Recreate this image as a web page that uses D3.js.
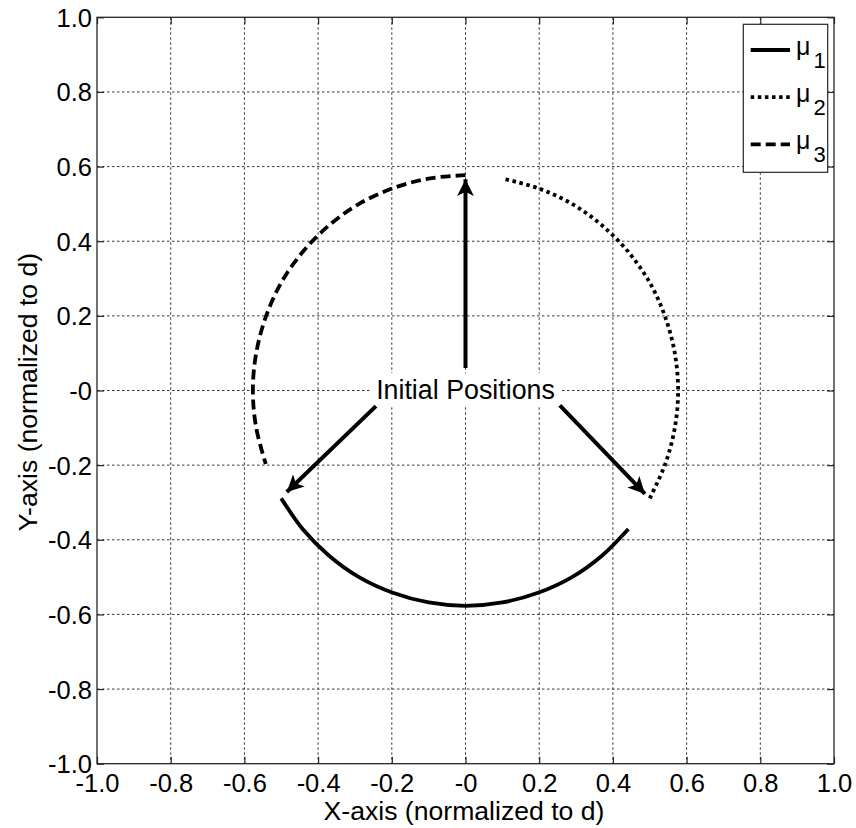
<!DOCTYPE html>
<html>
<head>
<meta charset="utf-8">
<script src="https://cdn.jsdelivr.net/npm/d3@7"></script>
<style>
  html, body { margin: 0; padding: 0; background: #fff; }
  svg { display: block; font-family: "Liberation Sans", Arial, sans-serif; }
</style>
</head>
<body>
<svg id="chart" width="856" height="828"></svg>
<script>
// Axis ticks and their printed labels
const tickValues = [-1, -0.8, -0.6, -0.4, -0.2, 0, 0.2, 0.4, 0.6, 0.8, 1];
const xTickLabels = ["-1.0", "-0.8", "-0.6", "-0.4", "-0.2", "-0", "0.2", "0.4", "0.6", "0.8", "1.0"];
const yTickLabels = ["-1.0", "-0.8", "-0.6", "-0.4", "-0.2", "-0", "0.2", "0.4", "0.6", "0.8", "1.0"];

// Trajectories of the three means, [x, y] normalized to d
const mu1 = [[-0.500, -0.289], [-0.442, -0.371], [-0.371, -0.442], [-0.289, -0.500],
             [-0.197, -0.542], [-0.100, -0.568], [0.000, -0.577], [0.100, -0.568],
             [0.197, -0.542], [0.289, -0.500], [0.371, -0.442], [0.442, -0.371]];
const mu2 = [[0.500, -0.289], [0.542, -0.197], [0.568, -0.100], [0.577, 0.000],
             [0.568, 0.100], [0.542, 0.197], [0.500, 0.289], [0.442, 0.371],
             [0.371, 0.442], [0.289, 0.500], [0.197, 0.542], [0.100, 0.568]];
const mu3 = [[0.000, 0.577], [-0.100, 0.568], [-0.197, 0.542], [-0.289, 0.500],
             [-0.371, 0.442], [-0.442, 0.371], [-0.500, 0.289], [-0.542, 0.197],
             [-0.568, 0.100], [-0.577, 0.000], [-0.568, -0.100], [-0.542, -0.197]];

const seriesNames = ["1", "2", "3"];
const seriesDash = [null, "3.5,3.6", "10,5"];

// Annotation arrows: [startX, startY, tipX, tipY]
const arrows = [[0.000, 0.060, 0.000, 0.566],
                [-0.243, -0.042, -0.485, -0.272],
                [0.256, -0.040, 0.487, -0.277]];
const annotationText = "Initial Positions";
const xLabel = "X-axis (normalized to d)";
const yLabel = "Y-axis (normalized to d)";

const svg = d3.select("#chart");
const L = 97, R = 834, T = 17.3, B = 763.7;
const x = d3.scaleLinear().domain([-1, 1]).range([L, R]);
const y = d3.scaleLinear().domain([-1, 1]).range([B, T]);
const axisColor = "#262626";

// Dotted grid
const grid = svg.append("g").attr("stroke", "#3a3a3a").attr("stroke-width", 1)
  .attr("stroke-dasharray", "2.5,2.5");
tickValues.slice(1, -1).forEach(v => {
  grid.append("line").attr("x1", x(v)).attr("x2", x(v)).attr("y1", T).attr("y2", B);
  grid.append("line").attr("x1", L).attr("x2", R).attr("y1", y(v)).attr("y2", y(v));
});

// Axes with inward ticks
const fmt = (labels) => (d, i) => labels[i];
const gx = svg.append("g").attr("transform", `translate(0,${B})`)
  .call(d3.axisBottom(x).tickValues(tickValues).tickFormat(fmt(xTickLabels))
    .tickSizeInner(-7).tickSizeOuter(0).tickPadding(10));
const gy = svg.append("g").attr("transform", `translate(${L},0)`)
  .call(d3.axisLeft(y).tickValues(tickValues).tickFormat(fmt(yTickLabels))
    .tickSizeInner(-7).tickSizeOuter(0).tickPadding(5));
const gt = svg.append("g").attr("transform", `translate(0,${T})`)
  .call(d3.axisTop(x).tickValues(tickValues).tickFormat("").tickSizeInner(-7).tickSizeOuter(0));
const gr = svg.append("g").attr("transform", `translate(${R},0)`)
  .call(d3.axisRight(y).tickValues(tickValues).tickFormat("").tickSizeInner(-7).tickSizeOuter(0));
[gx, gy, gt, gr].forEach(g => {
  g.select(".domain").remove();
  g.selectAll("line").attr("stroke", axisColor).attr("stroke-width", 1.2);
  g.selectAll("text").attr("fill", "#000").attr("font-size", 25.5)
    .attr("font-family", "Liberation Sans, Arial, sans-serif");
});
gx.selectAll("text").attr("dy", null).attr("y", 28.5);
gy.selectAll("text").attr("dy", null).attr("dominant-baseline", null).attr("y", 9).attr("x", -5);

// Frame
svg.append("rect").attr("x", L).attr("y", T).attr("width", R - L).attr("height", B - T)
  .attr("fill", "none").attr("stroke", axisColor).attr("stroke-width", 1.3);

// Trajectories
const line = d3.line().x(d => x(d[0])).y(d => y(d[1])).curve(d3.curveCatmullRom);
[mu1, mu2, mu3].forEach((data, i) => {
  svg.append("path").datum(data).attr("d", line)
    .attr("fill", "none").attr("stroke", "#000").attr("stroke-width", 3.8)
    .attr("stroke-dasharray", seriesDash[i]);
});

// Annotation label on white background
const label = svg.append("g");
label.append("rect").attr("x", 372).attr("y", 373).attr("width", 190).attr("height", 34).attr("fill", "#fff");
label.append("text").attr("x", x(0)).attr("y", 399).attr("text-anchor", "middle")
  .attr("font-size", 26.8).attr("fill", "#000").text(annotationText);

// Arrows
svg.append("defs").append("marker").attr("id", "head")
  .attr("viewBox", "0 0 10 10").attr("refX", 10).attr("refY", 5)
  .attr("markerWidth", 4.2).attr("markerHeight", 4.2).attr("markerUnits", "strokeWidth")
  .attr("orient", "auto")
  .append("path").attr("d", "M0,0 L10,5 L0,10 L2.5,5 Z").attr("fill", "#000");
arrows.forEach(a => {
  svg.append("line").attr("x1", x(a[0])).attr("y1", y(a[1])).attr("x2", x(a[2])).attr("y2", y(a[3]))
    .attr("stroke", "#000").attr("stroke-width", 4).attr("marker-end", "url(#head)");
});

// Legend
const lg = svg.append("g");
lg.append("rect").attr("x", 743.3).attr("y", 24.3).attr("width", 84.4).attr("height", 148)
  .attr("fill", "#fff").attr("stroke", axisColor).attr("stroke-width", 1.2);
seriesNames.forEach((n, i) => {
  const cy = 50 + i * 47.2;
  lg.append("line").attr("x1", 750.7).attr("x2", 790).attr("y1", cy).attr("y2", cy)
    .attr("stroke", "#000").attr("stroke-width", 3.8).attr("stroke-dasharray", seriesDash[i]);
  const t = lg.append("text").attr("x", 796).attr("y", cy + 4.5).attr("font-size", 25).attr("fill", "#000");
  t.append("tspan").text("μ");
  t.append("tspan").attr("dx", 3).attr("dy", 13).attr("font-size", 22).text(n);
});

// Axis titles
svg.append("text").attr("x", 464).attr("y", 820).attr("text-anchor", "middle")
  .attr("font-size", 26.6).attr("fill", "#000").text(xLabel);
svg.append("text").attr("transform", "translate(37,392) rotate(-90)").attr("text-anchor", "middle")
  .attr("font-size", 26.6).attr("fill", "#000").text(yLabel);
</script>
</body>
</html>
